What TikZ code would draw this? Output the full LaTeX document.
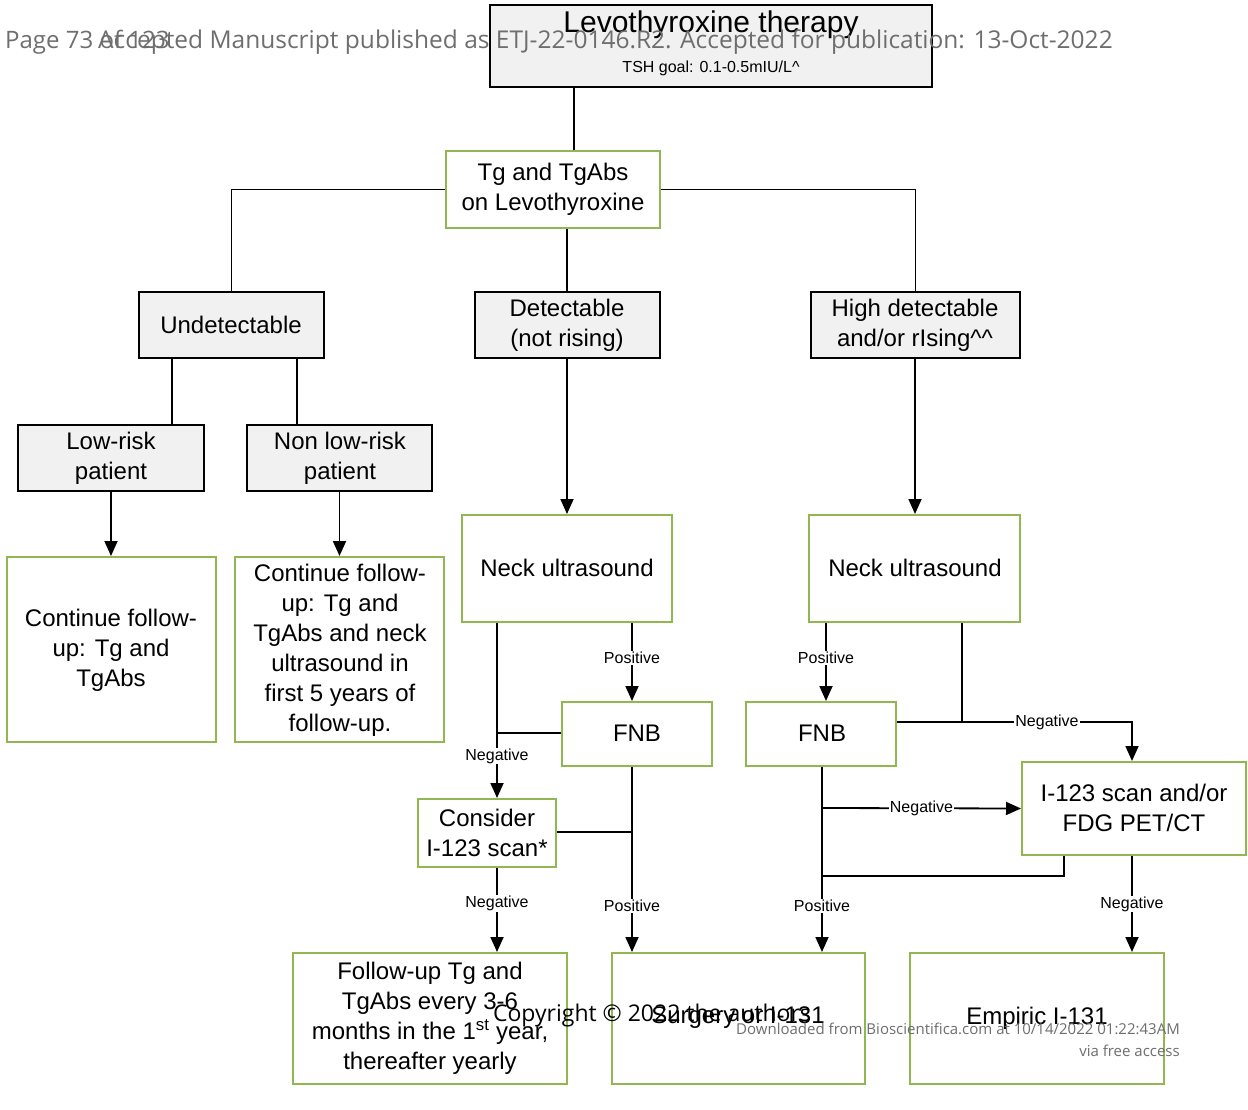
\documentclass[tikz,border=0pt]{standalone}
\usepackage{fontspec}
\setmainfont{Liberation Sans}
\newfontfamily\wmfont{Open Sans}
\usetikzlibrary{arrows.meta}
\definecolor{gbord}{RGB}{146,182,80}
\definecolor{gfill}{RGB}{241,241,241}
\definecolor{wm}{RGB}{110,110,110}
\begin{document}
\begin{tikzpicture}[x=1pt,y=-1pt,
  box/.style={draw=black,line width=1.8pt,fill=gfill,inner sep=0pt},
  gbox/.style={draw=gbord,line width=2pt,fill=white,inner sep=0pt},
  tx/.style={align=center,font=\fontsize{24}{30}\selectfont},
  ln/.style={line width=1.8pt},
  ar/.style={line width=1.8pt,-{Triangle[length=15pt,width=13pt]}},
  lab/.style={fill=white,font=\fontsize{16}{18}\selectfont,inner sep=1pt}]
\useasboundingbox (0,0) rectangle (1248,1110);
\newcommand{\bx}[6]{\node[#1,minimum width=#4-#2,minimum height=#5-#3] (#6) at ({(#2+#4)/2},{(#3+#5)/2}) {};}
\bx{box}{490}{5}{932}{87}{levo}
\node[font=\fontsize{30}{32}\selectfont] (levot) at (711,25) {Levothyroxine therapy};
\node[font=\fontsize{16}{18}\selectfont] (levos) at (711,68) {TSH goal: 0.1-0.5mIU/L\^{}};
\bx{gbox}{446}{151}{660}{228}{tg}
\node[tx] (tgt) at (553,189) {Tg and TgAbs\\on Levothyroxine};
\bx{box}{139}{292}{324}{358}{und}
\node[tx] (undt) at (231,325) {Undetectable};
\bx{box}{475}{292}{660}{358}{det}
\node[tx] (dett) at (567,325) {Detectable\\(not rising)};
\bx{box}{811}{292}{1020}{358}{high}
\node[tx] (hight) at (915,325) {High detectable\\and/or rIsing\^{}\^{}};
\bx{box}{18}{425}{204}{491}{low}
\node[tx] (lowt) at (111,458) {Low-risk\\patient};
\bx{box}{247}{425}{432}{491}{non}
\node[tx] (nont) at (340,458) {Non low-risk\\patient};
\bx{gbox}{7}{557}{216}{742}{c1}
\node[tx] (c1t) at (111,650) {Continue follow-\\up: Tg and\\TgAbs};
\bx{gbox}{235}{557}{444}{742}{c2}
\node[tx] (c2t) at (340,650) {Continue follow-\\up: Tg and\\TgAbs and neck\\ultrasound in\\first 5 years of\\follow-up.};
\bx{gbox}{462}{515}{672}{622}{n1}
\node[tx] (n1t) at (567,568) {Neck ultrasound};
\bx{gbox}{809}{515}{1020}{622}{n2}
\node[tx] (n2t) at (915,568) {Neck ultrasound};
\bx{gbox}{562}{702}{712}{766}{f1}
\node[tx] (f1t) at (637,733) {FNB};
\bx{gbox}{746}{702}{896}{766}{f2}
\node[tx] (f2t) at (822,733) {FNB};
\bx{gbox}{418}{799}{556}{867}{con}
\node[tx] (cont) at (487,833) {Consider\\I-123 scan*};
\bx{gbox}{1022}{762}{1246}{855}{i123}
\node[tx] (i123t) at (1134,808) {I-123 scan and/or\\FDG PET/CT};
\bx{gbox}{293}{953}{567}{1084}{fol}
\node[tx] (folt) at (430,1018) {Follow-up Tg and\\TgAbs every 3-6\\months in the 1\textsuperscript{st} year,\\thereafter yearly};
\bx{gbox}{612}{953}{865}{1084}{sur}
\node[tx] (surt) at (738,1018) {Surgery or I-131};
\bx{gbox}{910}{953}{1164}{1084}{emp}
\node[tx] (empt) at (1037,1018) {Empiric I-131};
% connectors
\draw[ln] (levo.south -| 574,0) -- (tg.north -| 574,0);
\draw[ln] (tg.west) -| (und.north);
\draw[ln] (tg.east) -| (high.north);
\draw[ln] (tg.south -| 567,0) -- (det.north -| 567,0);
\draw[ln] (und.south -| 172,0) -- (low.north -| 172,0);
\draw[ln] (und.south -| 297,0) -- (non.north -| 297,0);
\draw[ar] (low.south) -- (c1.north -| low.south);
\draw[ar] (non.south) -- (c2.north -| non.south);
\draw[ar] (det.south -| 567,0) -- (n1.north -| 567,0);
\draw[ar] (high.south -| 915,0) -- (n2.north -| 915,0);
\draw[ar] (n1.south -| 632,0) -- node[lab,pos=0.45]{Positive} (f1.north -| 632,0);
\draw[ar] (n1.south -| 497,0) -- node[lab,pos=0.76]{Negative} (con.north -| 497,0);
\coordinate (j1) at (497,733);
\draw[ln] (f1.west |- 0,733) -- (j1);
\draw[ar] (f1.south -| 632,0) -- node[lab,pos=0.75]{Positive} (sur.north -| 632,0);
\coordinate (j2) at (632,832);
\draw[ln] (con.east |- 0,832) -- (j2);
\draw[ar] (con.south -| 497,0) -- node[lab,pos=0.42]{Negative} (fol.north -| 497,0);
\draw[ar] (n2.south -| 826,0) -- node[lab,pos=0.45]{Positive} (f2.north -| 826,0);
\coordinate (j3) at (962,722);
\draw[ln] (n2.south -| 962,0) -- (j3);
\draw[ln] (f2.east |- 0,722) -- (j3);
\draw[ar] (j3) -- node[lab,pos=0.5]{Negative} (1132,722) -- (i123.north -| 1132,0);
\draw[ar] (f2.south -| 822,0) -- node[lab,pos=0.75]{Positive} (sur.north -| 822,0);
\coordinate (j4) at (822,808);
\draw[ar] (j4) -- node[lab]{Negative} (i123.west);
\coordinate (j5) at (822,876);
\draw[ln] (j5) -| (i123.south -| 1064,0);
\draw[ar] (i123.south -| 1132,0) -- node[lab,pos=0.5]{Negative} (emp.north -| 1132,0);
% watermarks
\node[anchor=west,wm,font=\wmfont\fontsize{24}{26}\selectfont,inner sep=0pt] (wm1) at (5,42) {Page 73 of 123};
\node[anchor=west,wm,font=\wmfont\fontsize{24.5}{26}\selectfont,inner sep=0pt] (wm2) at (98,42) {Accepted Manuscript published as ETJ-22-0146.R2. Accepted for publication: 13-Oct-2022};
\node[font=\wmfont\fontsize{23}{26}\selectfont,inner sep=0pt] (wm3) at (652,1016) {Copyright © 2022 the authors};
\node[anchor=east,wm,font=\wmfont\fontsize{15}{17}\selectfont,inner sep=0pt] (wm4) at (1180,1029) {Downloaded from Bioscientifica.com at 10/14/2022 01:22:43AM};
\node[anchor=east,wm,font=\wmfont\fontsize{15}{17}\selectfont,inner sep=0pt] (wm5) at (1180,1051) {via free access};
\end{tikzpicture}
\end{document}
